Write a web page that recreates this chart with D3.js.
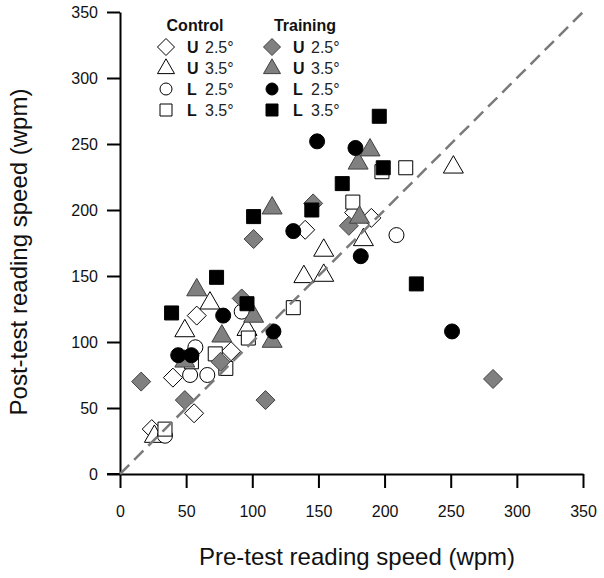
<!DOCTYPE html>
<html>
<head>
<meta charset="utf-8">
<script src="https://cdn.jsdelivr.net/npm/d3@7"></script>
<style>
  html, body { margin: 0; padding: 0; background: #fff; }
  text { font-family: "Liberation Sans", Arial, sans-serif; }
</style>
</head>
<body>
<svg id="chart" width="604" height="578"></svg>
<script>
// ---- data: [pre-test, post-test] in wpm ----
const controlU25 = [[24,34],[40,73],[56,46],[58,120],[84,93],[140,185],[177,198],[190,194]];
const controlU35 = [[26,29],[49,109],[68,130],[96,110],[139,150],[154,151],[154,170],[184,178],[252,233]];
const controlL25 = [[34,29],[53,75],[66,75],[57,96],[92,123],[209,181]];
const controlL35 = [[34,34],[54,85],[72,91],[80,80],[97,103],[131,126],[176,206],[198,229],[216,232]];
const trainingU25 = [[16,70],[49,56],[76,85],[92,133],[101,178],[110,56],[146,205],[173,188],[282,72]];
const trainingU35 = [[49,86],[58,140],[77,105],[101,120],[115,101],[115,202],[181,195],[180,236],[189,246]];
const trainingL25 = [[44,90],[54,90],[78,120],[116,108],[131,184],[149,252],[178,247],[182,165],[251,108]];
const trainingL35 = [[39,122],[73,149],[96,129],[101,195],[145,200],[168,220],[196,271],[199,232],[224,144]];

const xTicks = [0,50,100,150,200,250,300,350];
const yTicks = [0,50,100,150,200,250,300,350];
const groupLabels = ["Control", "Training"];
const rowLetters = ["U","U","L","L"];
const rowAngles = ["2.5\u00b0","3.5\u00b0","2.5\u00b0","3.5\u00b0"];
const xTitle = "Pre-test reading speed (wpm)";
const yTitle = "Post-test reading speed (wpm)";

// ---- custom symbol shapes ----
const shapes = {
  diamond: { draw(ctx, s) { const r = s; ctx.moveTo(0,-r); ctx.lineTo(r,0); ctx.lineTo(0,r); ctx.lineTo(-r,0); ctx.closePath(); } },
  triangle: { draw(ctx, s) { const w = s, h = s*0.87; ctx.moveTo(0,-h*0.62); ctx.lineTo(w/2,h*0.38); ctx.lineTo(-w/2,h*0.38); ctx.closePath(); } },
  circle: { draw(ctx, s) { const r = s/2; ctx.moveTo(r,0); ctx.arc(0,0,r,0,2*Math.PI); } },
  square: { draw(ctx, s) { const h = s/2; ctx.rect(-h,-h,s,s); } }
};

const GRAY = "#808080";
const series = [
  { data: controlU25,  shape: "diamond",  size: 9.5, fill: "#fff", stroke: "#000" },
  { data: controlU35,  shape: "triangle", size: 20,  fill: "#fff", stroke: "#000" },
  { data: controlL25,  shape: "circle",   size: 15,  fill: "#fff", stroke: "#000" },
  { data: controlL35,  shape: "square",   size: 14,  fill: "#fff", stroke: "#000" },
  { data: trainingU25, shape: "diamond",  size: 9.5, fill: GRAY,   stroke: "#404040" },
  { data: trainingU35, shape: "triangle", size: 20,  fill: GRAY,   stroke: "#404040" },
  { data: trainingL25, shape: "circle",   size: 15,  fill: "#000", stroke: "#000" },
  { data: trainingL35, shape: "square",   size: 14,  fill: "#000", stroke: "#000" }
];
const legendSize = { diamond: 8.5, triangle: 17, circle: 12, square: 12 };

const svg = d3.select("#chart");
const x = d3.scaleLinear().domain([0,350]).range([120,583]);
const y = d3.scaleLinear().domain([0,350]).range([474,12]);

function sym(shape, size) {
  return d3.symbol().type(shapes[shape]).size(size)();
}

// axes
const xAxis = svg.append("g").attr("transform", "translate(0,474)")
  .call(d3.axisBottom(x).tickValues(xTicks).tickSize(14).tickSizeOuter(0).tickPadding(18));
const yAxis = svg.append("g").attr("transform", "translate(120,0)")
  .call(d3.axisLeft(y).tickValues(yTicks).tickSize(13).tickSizeOuter(0).tickPadding(9));
[xAxis, yAxis].forEach(a => {
  a.select(".domain").attr("stroke", "#000").attr("stroke-width", 2);
  a.selectAll(".tick line").attr("stroke", "#000").attr("stroke-width", 2);
  a.selectAll(".tick text").attr("font-size", 16).attr("fill", "#111")
    .style("font-family", "'Liberation Sans', Arial, sans-serif");
});
svg.append("line").attr("x1", 107).attr("x2", 121).attr("y1", y(0)).attr("y2", y(0))
  .attr("stroke", "#000").attr("stroke-width", 2);

// points
series.forEach(s => {
  svg.append("g").selectAll("path").data(s.data).enter().append("path")
    .attr("d", sym(s.shape, s.size))
    .attr("transform", d => `translate(${x(d[0])},${y(d[1])})`)
    .attr("fill", s.fill).attr("stroke", s.stroke).attr("stroke-width", 1);
});

// identity line
svg.append("line")
  .attr("x1", x(0)).attr("y1", y(0)).attr("x2", x(350)).attr("y2", y(350))
  .attr("stroke", "#7a7a7a").attr("stroke-width", 2.5).attr("stroke-dasharray", "13,7");

// axis titles
svg.append("text").attr("x", 357).attr("y", 565).attr("text-anchor", "middle")
  .attr("font-size", 24).attr("fill", "#111").text(xTitle);
svg.append("text").attr("transform", "translate(27,252) rotate(-90)").attr("text-anchor", "middle")
  .attr("font-size", 24).attr("fill", "#111").text(yTitle);

// legend
const legX = [166, 272];
const rowY = [47, 68, 89, 110];
groupLabels.forEach((g, gi) => {
  svg.append("text").attr("x", gi === 0 ? 195 : 305).attr("y", 31).attr("text-anchor", "middle")
    .attr("font-size", 16).attr("font-weight", "bold").attr("fill", "#111").text(g);
  rowY.forEach((ry, ri) => {
    const s = series[gi*4 + ri];
    svg.append("path").attr("d", sym(s.shape, legendSize[s.shape]))
      .attr("transform", `translate(${legX[gi]},${ry})`)
      .attr("fill", s.fill).attr("stroke", s.stroke).attr("stroke-width", 1);
    svg.append("text").attr("x", legX[gi] + 21).attr("y", ry + 6)
      .attr("font-size", 16).attr("font-weight", "bold").attr("fill", "#111").text(rowLetters[ri]);
    svg.append("text").attr("x", legX[gi] + 39).attr("y", ry + 6)
      .attr("font-size", 16).attr("fill", "#222").text(rowAngles[ri]);
  });
});
</script>
</body>
</html>
